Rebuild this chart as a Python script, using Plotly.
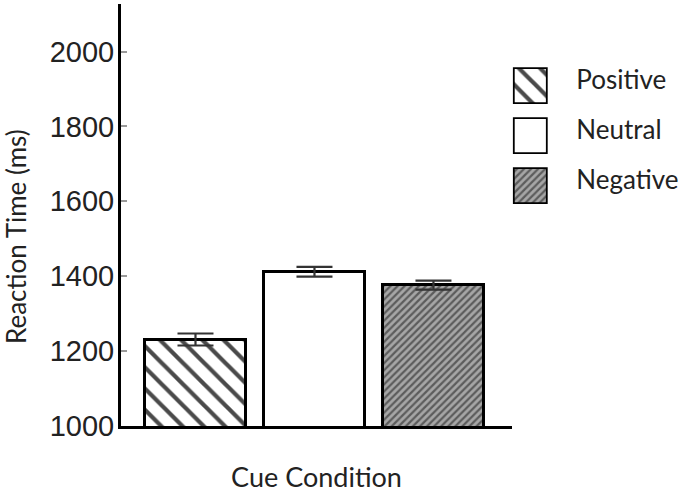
import plotly.graph_objects as go

categories = ["Positive", "Neutral", "Negative"]
means = [1231, 1412, 1376]
errors = [16, 13, 12]
y_ticks = [1000, 1200, 1400, 1600, 1800, 2000]

patterns = [
    dict(shape="\\", fgcolor="#4a4a4a", bgcolor="white", size=15, solidity=0.28, fillmode="replace"),
    dict(shape="", fgcolor="white", bgcolor="white"),
    dict(shape="/", fgcolor="#5c5c5c", bgcolor="#a6a6a6", size=5, solidity=0.45, fillmode="replace"),
]
fills = ["white", "white", "#8c8c8c"]

W, H = 685, 493
L, T, B = 121, 4, 67
plot_w = W - L
ph = H - T - B
x_main_end = (512 - L) / plot_w

fig = go.Figure()
xs = list(range(len(categories)))
for i, c in enumerate(categories):
    fig.add_trace(go.Bar(
        x=[xs[i]], y=[means[i]], width=0.85,
        marker=dict(color=fills[i], line=dict(color="black", width=3), pattern=patterns[i]),
        error_y=dict(type="data", array=[errors[i]], color="#333", thickness=2.2, width=18),
        showlegend=False, xaxis="x", yaxis="y", name=c,
    ))

# legend swatches drawn as a small horizontal bar chart on auxiliary axes
for i, c in enumerate(categories):
    fig.add_trace(go.Bar(
        x=[1], y=[c], orientation="h", width=0.7,
        marker=dict(color=fills[i], line=dict(color="black", width=1.8), pattern=patterns[i]),
        showlegend=False, xaxis="x2", yaxis="y2", hoverinfo="skip",
    ))

pad = 0.1
box_w = 548 - 515
lg_x0 = (515 - pad * box_w - L) / plot_w
lg_x1 = (548 + pad * box_w - L) / plot_w
lg_y0 = (H - B - 211) / ph
lg_y1 = (H - B - 61) / ph

fig.update_layout(
    width=W, height=H,
    margin=dict(l=L, r=0, t=T, b=B, pad=0, autoexpand=False),
    plot_bgcolor="white", paper_bgcolor="white",
    bargap=0,
    xaxis=dict(
        domain=[0, x_main_end], range=[-0.626, 2.66], showticklabels=False, ticks="",
        showgrid=False, zeroline=False, showline=True, linecolor="black", linewidth=3,
        automargin=False,
        title=dict(text="Cue Condition", font=dict(family="Lato", size=27, color="#222"), standoff=49),
    ),
    yaxis=dict(
        range=[1000, 2127], tickvals=y_ticks, ticktext=[str(v) for v in y_ticks],
        ticks="inside", ticklen=6, tickwidth=1.5, tickcolor="#999",
        ticklabelstandoff=-2,
        tickfont=dict(family="Liberation Sans", size=29, color="#222"),
        showgrid=False, zeroline=False, showline=True, linecolor="black", linewidth=3,
        automargin=False,
    ),
    xaxis2=dict(domain=[lg_x0, lg_x1], range=[-pad, 1 + pad], visible=False, anchor="y2"),
    yaxis2=dict(
        domain=[lg_y0, lg_y1], anchor="x2", side="right", autorange="reversed",
        showgrid=False, zeroline=False, showline=False, ticks="", automargin=False,
        ticklabelstandoff=int(round(27 - pad * box_w)), ticklabelshift=6,
        tickfont=dict(family="Lato", size=26, color="#222"),
    ),
    annotations=[dict(
        text="Reaction Time (ms)", textangle=-90, showarrow=False,
        xref="paper", x=0, xanchor="center", xshift=16 - L,
        yref="y domain", y=(H - B - 237) / ph, yanchor="middle",
        font=dict(family="Lato", size=26, color="#222"),
    )],
)

fig.write_html("out.html", config={"displayModeBar": False},
               post_script="document.body.style.margin='0px';")
